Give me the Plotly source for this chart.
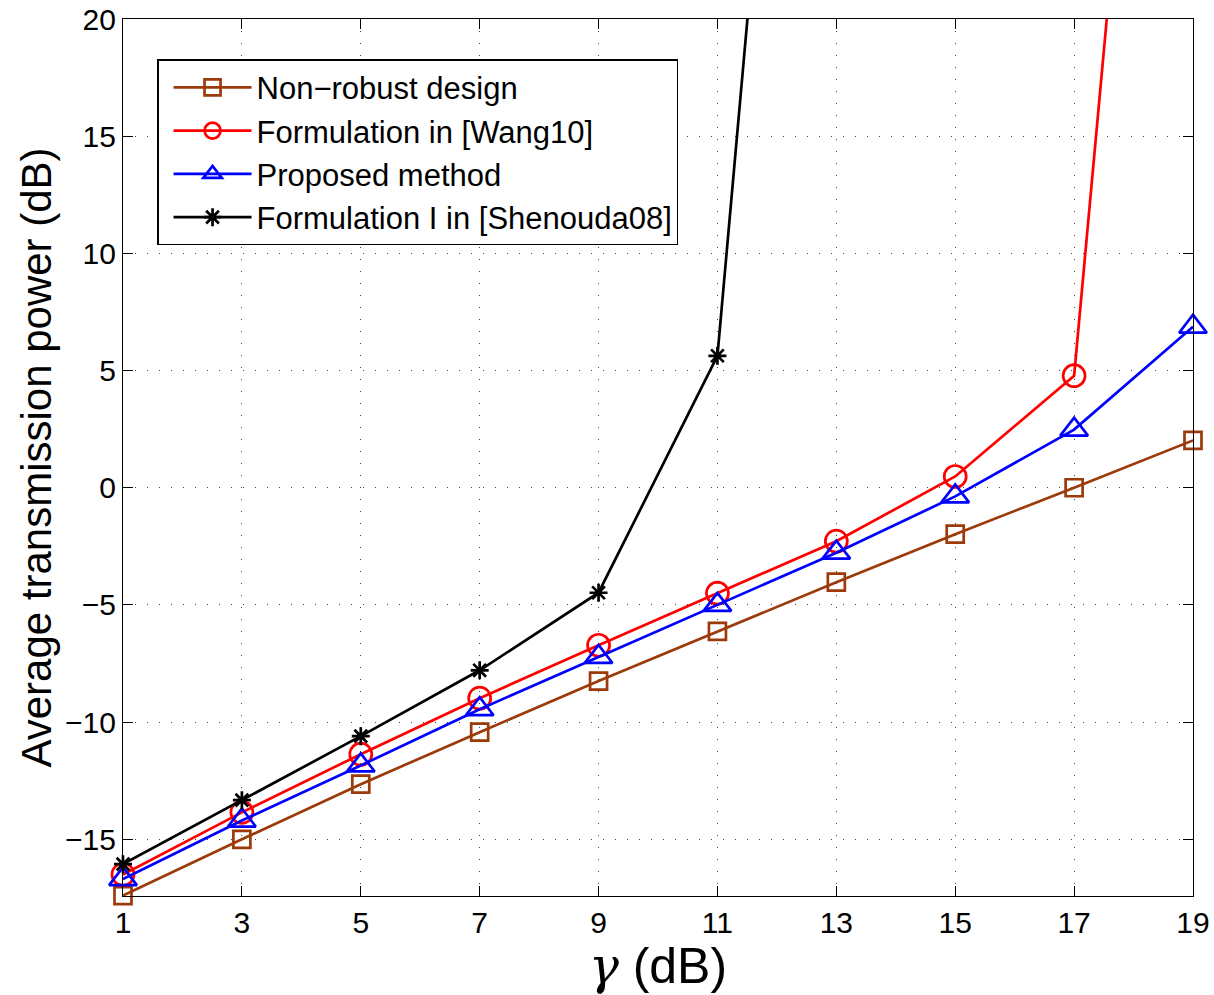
import plotly.graph_objects as go

gamma_db = [1, 3, 5, 7, 9, 11, 13, 15, 17, 19]
non_robust = [-17.4, -15.0, -12.65, -10.43, -8.25, -6.13, -4.03, -1.98, 0.0, 2.02]
wang10 = [-16.5, -13.85, -11.37, -8.98, -6.72, -4.5, -2.28, 0.48, 4.78, 60.2]
proposed = [-16.7, -14.2, -11.85, -9.45, -7.22, -5.0, -2.77, -0.37, 2.48, 6.87]
shenouda_x = [1, 3, 5, 7, 9, 11, 13]
shenouda = [-16.06, -13.33, -10.6, -7.79, -4.48, 5.63, 62.6]

x_ticks = [1, 3, 5, 7, 9, 11, 13, 15, 17, 19]
y_ticks = [-15, -10, -5, 0, 5, 10, 15, 20]

FONT = "Liberation Sans, Arial, sans-serif"

fig = go.Figure()
fig.add_trace(go.Scatter(
    x=gamma_db, y=non_robust, name="Non\u2212robust design", mode="lines+markers",
    line=dict(color="#9c3a0a", width=2.7), cliponaxis=False,
    marker=dict(symbol="square-open", size=17, color="#9c3a0a", line=dict(width=2.7)),
    legendgroup="a"))
fig.add_trace(go.Scatter(
    x=gamma_db, y=wang10, name="Formulation in [Wang10]", mode="lines+markers",
    line=dict(color="#ff0000", width=2.7), cliponaxis=False,
    marker=dict(symbol="circle-open", size=22, color="#ff0000", line=dict(width=2.7)),
    legendgroup="b"))
fig.add_trace(go.Scatter(
    x=gamma_db, y=proposed, name="Proposed method", mode="lines+markers",
    line=dict(color="#0000ff", width=2.7), cliponaxis=False,
    marker=dict(symbol="triangle-up-open", size=24, color="#0000ff", line=dict(width=2.7)),
    legendgroup="c"))
fig.add_trace(go.Scatter(
    x=shenouda_x, y=shenouda, name="Formulation I in [Shenouda08]", mode="lines+markers",
    line=dict(color="#000000", width=2.7), cliponaxis=False,
    marker=dict(symbol="asterisk-open", size=15, color="#000000", line=dict(width=2.7)),
    legendgroup="d"))

axis_common = dict(
    showline=True, linecolor="black", linewidth=1.3, mirror="allticks",
    ticks="inside", ticklen=10, tickcolor="black", tickwidth=1.3,
    showgrid=True, gridcolor="#444444", gridwidth=1, griddash="1px,11px",
    zeroline=False, automargin=False,
    tickfont=dict(family=FONT, size=30, color="black"),
)

fig.update_xaxes(
    range=[1, 19], tickvals=x_ticks, ticktext=[str(v) for v in x_ticks],
    title=dict(text='<span style="font-family:DejaVu Serif;font-style:italic">\u03b3</span> (dB)',
               font=dict(family=FONT, size=50, color="black"),
               standoff=6),
    **axis_common)
fig.update_yaxes(
    range=[-17.42, 20], tickvals=y_ticks,
    ticktext=[("\u2212" + str(-v)) if v < 0 else str(v) for v in y_ticks],
    title=dict(text="Average transmission power (dB)",
               font=dict(family=FONT, size=42, color="black"),
               standoff=0),
    **axis_common)

fig.update_layout(
    width=1214, height=995,
    margin=dict(l=123, r=21, t=19, b=99),
    plot_bgcolor="white", paper_bgcolor="white",
    showlegend=True,
    legend=dict(
        x=0.032, y=0.954, xanchor="left", yanchor="top",
        bgcolor="white", bordercolor="black", borderwidth=1.3,
        font=dict(family=FONT, size=31, color="black"),
        traceorder="grouped", tracegroupgap=0, itemwidth=78, indentation=10,
    ),
)

fig.write_html("out.html")
